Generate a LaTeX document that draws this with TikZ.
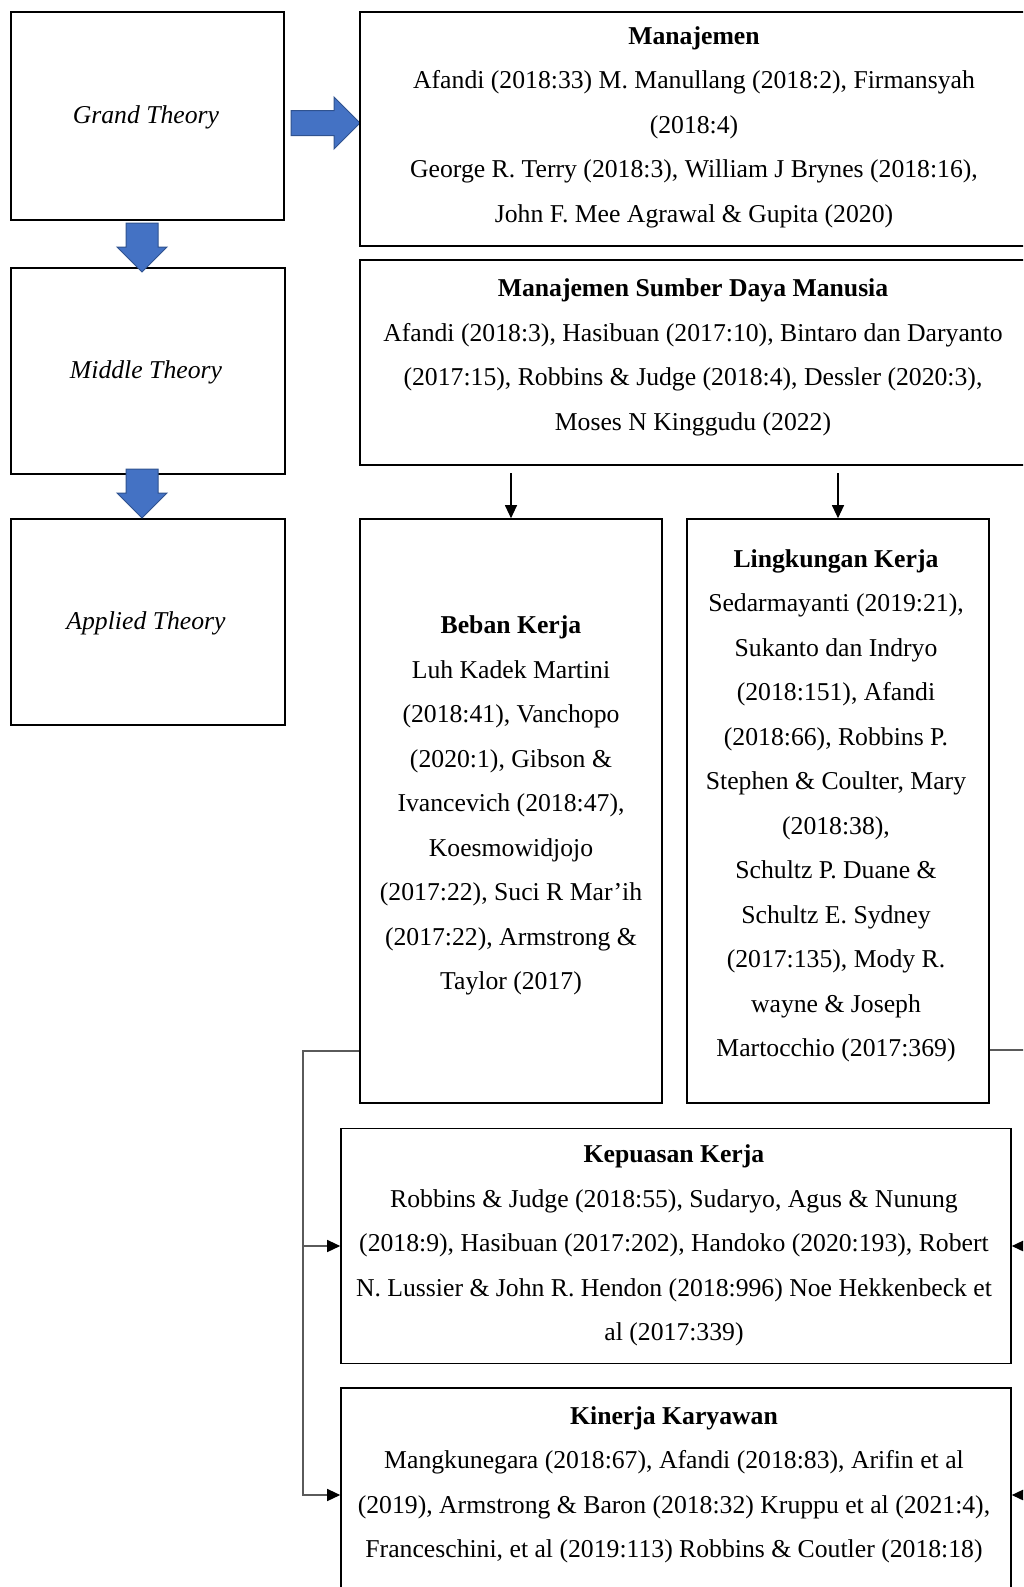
\documentclass[tikz,border=0pt]{standalone}
\usepackage{fontspec}
\setmainfont{Liberation Serif}
\usetikzlibrary{arrows.meta}
\definecolor{arrowblue}{HTML}{4472C4}
\definecolor{arrowedge}{HTML}{2F528F}
\definecolor{linkgray}{HTML}{5A5A5A}
\begin{document}
\begin{tikzpicture}[x=1pt,y=-1pt,
    box/.style={draw,line width=1.6pt,inner sep=0pt},
    txt/.style={align=center,inner sep=0pt,font=\fontsize{25.7}{44.5}\selectfont},
    link/.style={draw=linkgray,line width=1.3pt},
    tip/.style={-{Triangle[length=13pt,width=12pt,black]}},
    bigarrow/.style={fill=arrowblue,draw=arrowedge,line width=1pt}]
    \useasboundingbox (0,0) rectangle (1023,1587);
    \clip (0,0) rectangle (1023,1587);
    % Theory levels
    \node[box,minimum width=273,minimum height=208] (grand) at (147.5,116) {};
    \node[box,minimum width=274,minimum height=206] (middle) at (148,371) {};
    \node[box,minimum width=274,minimum height=206] (applied) at (148,622) {};
    \node[txt] (grand-t) at (146,117) {\textit{Grand Theory}};
    \node[txt] (middle-t) at (146,372) {\textit{Middle Theory}};
    \node[txt] (applied-t) at (146,623) {\textit{Applied Theory}};
    % Block arrows
    \draw[bigarrow] (291,110.5) -- (334,110.5) -- (334,97) -- (360,123)
        -- (334,149) -- (334,135.5) -- (291,135.5) -- cycle;
    \foreach \y in {223,469}
        \draw[bigarrow] (126,\y) -- (158,\y) -- (158,\y+24) -- (167,\y+24)
            -- (142,\y+49) -- (117,\y+24) -- (126,\y+24) -- cycle;
    % Theory boxes
    \node[box,minimum width=668,minimum height=234] (mgmt) at (694,129) {};
    \node[box,minimum width=668,minimum height=205] (msdm) at (694,362.5) {};
    \node[box,minimum width=302,minimum height=584] (beban) at (511,811) {};
    \node[box,minimum width=302,minimum height=584] (lingkungan) at (838,811) {};
    \node[box,minimum width=670,minimum height=235] (kepuasan) at (676,1246) {};
    \node[box,minimum width=670,minimum height=214] (kinerja) at (676,1495) {};
    % Texts
    \node[txt] (mgmt-t) at (694,127) {\textbf{Manajemen}\\
        Afandi (2018:33) M. Manullang (2018:2), Firmansyah\\
        (2018:4)\\
        George R. Terry (2018:3), William J Brynes (2018:16),\\
        John F. Mee Agrawal \& Gupita (2020)};
    \node[txt] (msdm-t) at (693,357.5) {\textbf{Manajemen Sumber Daya Manusia}\\
        Afandi (2018:3), Hasibuan (2017:10), Bintaro dan Daryanto\\
        (2017:15), Robbins \& Judge (2018:4), Dessler (2020:3),\\
        Moses N Kinggudu (2022)};
    \node[txt] (beban-t) at (511,805.5) {\textbf{Beban Kerja}\\
        Luh Kadek Martini\\
        (2018:41), Vanchopo\\
        (2020:1), Gibson \&\\
        Ivancevich (2018:47),\\
        Koesmowidjojo\\
        (2017:22), Suci R Mar’ih\\
        (2017:22), Armstrong \&\\
        Taylor (2017)};
    \node[txt] (lingkungan-t) at (836,806) {\textbf{Lingkungan Kerja}\\
        Sedarmayanti (2019:21),\\
        Sukanto dan Indryo\\
        (2018:151), Afandi\\
        (2018:66), Robbins P.\\
        Stephen \& Coulter, Mary\\
        (2018:38),\\
        Schultz P. Duane \&\\
        Schultz E. Sydney\\
        (2017:135), Mody R.\\
        wayne \& Joseph\\
        Martocchio (2017:369)};
    \node[txt] (kepuasan-t) at (674,1245.6) {\textbf{Kepuasan Kerja}\\
        Robbins \& Judge (2018:55), Sudaryo, Agus \& Nunung\\
        (2018:9), Hasibuan (2017:202), Handoko (2020:193), Robert\\
        N. Lussier \& John R. Hendon (2018:996) Noe Hekkenbeck et\\
        al (2017:339)};
    \node[txt] (kinerja-t) at (674,1485) {\textbf{Kinerja Karyawan}\\
        Mangkunegara (2018:67), Afandi (2018:83), Arifin et al\\
        (2019), Armstrong \& Baron (2018:32) Kruppu et al (2021:4),\\
        Franceschini, et al (2019:113) Robbins \& Coutler (2018:18)};
    % Connectors
    \coordinate (msdm-out) at (0,473);
    \draw[tip,line width=1.1pt] (msdm-out -| beban.north) -- (beban.north);
    \draw[tip,line width=1.1pt] (msdm-out -| lingkungan.north) -- (lingkungan.north);
    \coordinate (leftbus) at (303,1051);
    \coordinate (rightbus) at (1027,1050);
    \draw[link,tip] (beban.west |- leftbus) -- (leftbus) -- (leftbus |- kinerja.west)
        -- (kinerja.west);
    \draw[link,tip] (leftbus |- kepuasan.west) -- (kepuasan.west);
    \draw[link,tip] (lingkungan.east |- rightbus) -- (rightbus) -- (rightbus |- kinerja.east)
        -- (kinerja.east);
    \draw[link,tip] (rightbus |- kepuasan.east) -- (kepuasan.east);
\end{tikzpicture}
\end{document}
